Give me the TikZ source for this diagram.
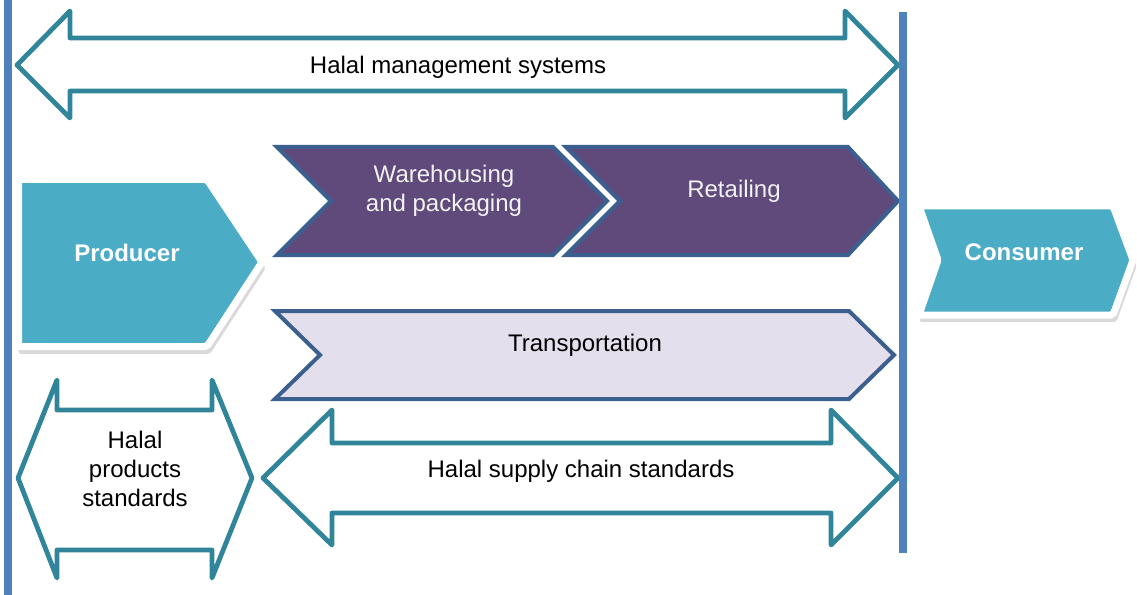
\documentclass[tikz,border=0pt]{standalone}
\usepackage{fontspec}
\setmainfont{Liberation Sans}
\usetikzlibrary{shadows}
\tikzset{every picture/.style={line width=0.75pt}}
\definecolor{tealline}{RGB}{49,133,155}
\definecolor{barblue}{RGB}{79,129,189}
\definecolor{chevline}{RGB}{59,96,144}
\definecolor{chevfill}{RGB}{96,74,123}
\definecolor{lavfill}{RGB}{228,223,236}
\definecolor{endfill}{RGB}{75,172,198}
\tikzset{
  stdarrow/.style={draw=tealline, line width=3.6pt, line join=round, fill=white},
  chevron/.style={draw=chevline, line width=3pt, line join=miter},
  endbox/.style={draw=white, line width=5.25pt, fill=endfill, rounded corners=1.5pt,
    drop shadow={opacity=0.3, shadow scale=1.015, shadow xshift=1.5pt, shadow yshift=-4.5pt}},
  lbl/.style={font=\fontsize{18}{21.6}\selectfont, align=center},
  bar/.style={draw=barblue, line width=6pt}
}

\begin{document}
\begin{tikzpicture}[x=0.75pt,y=0.75pt,yscale=-1,xscale=1]
\useasboundingbox (0,0) rectangle (1137,595);

%Shape: Double Arrow [id:management]
\draw [stdarrow] (17,65) -- (70,11) -- (70,38) -- (845,38) -- (845,11) -- (898,65) -- (845,118) -- (845,91) -- (70,91) -- (70,118) -- cycle ;

%Shape: Pentagon [id:producer]
\draw [endbox] (18.5,179.5) -- (207,179.5) -- (262,262) -- (207,346.5) -- (18.5,346.5) -- cycle ;

%Shape: Chevron [id:warehousing]
\draw [chevron, fill=chevfill] (277,147) -- (553,147) -- (607,201) -- (553,255) -- (277,255) -- (331,201) -- cycle ;
%Shape: Chevron [id:retailing]
\draw [chevron, fill=chevfill] (566,147) -- (848,147) -- (898,201) -- (848,255) -- (566,255) -- (620,201) -- cycle ;

%Shape: Chevron [id:consumer]
\draw [endbox] (919,206) -- (1113,206) -- (1133,260) -- (1113,315) -- (919,315) -- (938,260) -- cycle ;

%Shape: Chevron [id:transport]
\draw [chevron, fill=lavfill] (275,311) -- (849,311) -- (894,355) -- (849,399) -- (275,399) -- (320,355) -- cycle ;

%Shape: Double Arrow [id:products]
\draw [stdarrow] (18,478) -- (57,380) -- (57,410) -- (212,410) -- (212,380) -- (252,478) -- (212,578) -- (212,550) -- (57,550) -- (57,578) -- cycle ;

%Shape: Double Arrow [id:supplychain]
\draw [stdarrow] (263,478) -- (332,410) -- (332,443) -- (831,443) -- (831,410) -- (898,478) -- (831,545) -- (831,513) -- (332,513) -- (332,545) -- cycle ;

%Straight Lines [id:leftbar]
\draw [bar] (8,0) -- (8,595) ;
%Straight Lines [id:rightbar]
\draw [bar] (902.5,12) -- (902.5,553) ;

% Text Node
\node [lbl] (mgmt) at (458,67) {Halal management systems};
% Text Node
\node [lbl, text=white, font=\fontsize{18}{21.6}\selectfont\bfseries] (prod) at (127,253) {Producer};
% Text Node
\node [lbl, text=white!95!black] (ware) at (444,191) {Warehousing\\and packaging};
% Text Node
\node [lbl, text=white!95!black] (retail) at (734,191) {Retailing};
% Text Node
\node [lbl, text=white, font=\fontsize{18}{21.6}\selectfont\bfseries] (cons) at (1024,252) {Consumer};
% Text Node
\node [lbl] (trans) at (585,345) {Transportation};
% Text Node
\node [lbl] (prodstd) at (135,469) {Halal\\products\\standards};
% Text Node
\node [lbl] (scstd) at (581,471) {Halal supply chain standards};

\end{tikzpicture}
\end{document}
